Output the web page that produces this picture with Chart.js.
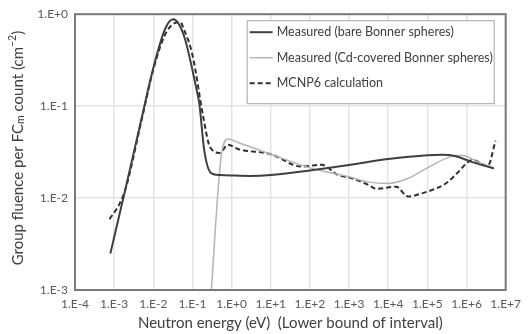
<!DOCTYPE html>
<html>
<head>
<meta charset="utf-8">
<script src="https://cdn.jsdelivr.net/npm/chart.js@4.4.1/dist/chart.umd.min.js"></script>
<style>
  html, body { margin: 0; padding: 0; background: #fff; }
  #wrap { width: 528px; height: 334px; }
</style>
</head>
<body>
<div id="wrap"><canvas id="c" width="528" height="334"></canvas></div>
<script>
// tick values / labels
var xTickValues = [1e-4, 1e-3, 1e-2, 1e-1, 1e0, 1e1, 1e2, 1e3, 1e4, 1e5, 1e6, 1e7];
var xTickLabels = ['1.E-4', '1.E-3', '1.E-2', '1.E-1', '1.E+0', '1.E+1', '1.E+2', '1.E+3', '1.E+4', '1.E+5', '1.E+6', '1.E+7'];
var yTickValues = [1e-3, 1e-2, 1e-1, 1e0];
var yTickLabels = ['1.E-3', '1.E-2', '1.E-1', '1.E+0'];

// measured, bare Bonner spheres
var bareEnergy = [8e-4, 2e-3, 5e-3, 1e-2, 2e-2, 3.2e-2, 6e-2, 0.13, 0.15, 0.2, 0.3, 0.5, 1, 3, 10, 100, 1e3, 1e4, 1e5, 2.5e5, 5e5, 1.4e6, 5e6];
var bareFluence = [0.0025, 0.0133, 0.073, 0.26, 0.69, 0.88, 0.59, 0.145, 0.106, 0.033, 0.0187, 0.0178, 0.0176, 0.0174, 0.0178, 0.020, 0.0229, 0.0266, 0.0293, 0.0296, 0.0287, 0.0246, 0.021];

// measured, Cd-covered Bonner spheres
var cdEnergy = [0.3, 0.45, 0.55, 0.8, 1.5, 10, 100, 1e3, 3e3, 1e4, 3e4, 1e5, 3e5, 5e5, 8e5, 2e6, 5e6];
var cdFluence = [0.0009, 0.012, 0.03, 0.044, 0.040, 0.030, 0.0213, 0.017, 0.015, 0.0144, 0.0162, 0.0213, 0.027, 0.029, 0.029, 0.0246, 0.0213];

// MCNP6 calculation
var mcnpEnergy = [7.6e-4, 1.4e-3, 2e-3, 5e-3, 1e-2, 2e-2, 3.5e-2, 4.9e-2, 6e-2, 0.1, 0.19, 0.28, 0.5, 0.8, 1.5, 10, 60, 200, 500, 1.3e3, 3e3, 5e3, 1.6e4, 3.2e4, 7e4, 3e5, 6e5, 9.5e5, 1.4e6, 3.5e6, 5.5e6];
var mcnpFluence = [0.0059, 0.0088, 0.013, 0.07, 0.25, 0.6, 0.8, 0.82, 0.69, 0.36, 0.075, 0.036, 0.031, 0.038, 0.034, 0.030, 0.022, 0.023, 0.018, 0.0162, 0.014, 0.0126, 0.0133, 0.0104, 0.0112, 0.0145, 0.019, 0.0234, 0.026, 0.0225, 0.042];

var FONT = 'Lato, "Open Sans", sans-serif';

function pts(xs, ys) {
  return xs.map(function (x, i) { return { x: x, y: ys[i] }; });
}

// frame, axis titles and the boxed legend inside the plot
var decorations = {
  id: 'decorations',
  afterDraw: function (chart) {
    var ctx = chart.ctx, a = chart.chartArea;
    ctx.save();

    ctx.strokeStyle = '#7a7a7a';
    ctx.lineWidth = 2;
    ctx.strokeRect(a.left, a.top, a.right - a.left, a.bottom - a.top);

    // legend
    var bw = 247, bh = 83;
    var bx = a.right - 12 - bw, by = a.top + 6;
    ctx.fillStyle = '#fff';
    ctx.fillRect(bx, by, bw, bh);
    ctx.strokeStyle = '#a6a6a6';
    ctx.lineWidth = 1;
    ctx.strokeRect(bx + 0.5, by + 0.5, bw, bh);
    ctx.font = '12.5px ' + FONT;
    ctx.textBaseline = 'middle';
    chart.data.datasets.forEach(function (ds, i) {
      var ly = by + 12 + i * 25.5;
      ctx.beginPath();
      ctx.strokeStyle = ds.borderColor;
      ctx.lineWidth = ds.borderWidth;
      ctx.setLineDash(ds.borderDash || []);
      ctx.moveTo(bx + 3, ly);
      ctx.lineTo(bx + 26, ly);
      ctx.stroke();
      ctx.setLineDash([]);
      ctx.fillStyle = '#404040';
      ctx.fillText(ds.label, bx + 30, ly);
    });

    // x title
    ctx.fillStyle = '#404040';
    ctx.font = '15px ' + FONT;
    ctx.textAlign = 'center';
    ctx.fillText('Neutron energy (eV)  (Lower bound of interval)', (a.left + a.right) / 2, 323);

    // y title with sub/superscript
    var parts = [
      { t: 'Group fluence per FC', s: 15, dy: 0 },
      { t: 'm', s: 10.5, dy: 3 },
      { t: ' count (cm', s: 15, dy: 0 },
      { t: '\u22122', s: 10.5, dy: -5 },
      { t: ')', s: 15, dy: 0 }
    ];
    var total = 0;
    parts.forEach(function (p) { ctx.font = p.s + 'px ' + FONT; p.w = ctx.measureText(p.t).width; total += p.w; });
    ctx.translate(18, (a.top + a.bottom) / 2 - 4);
    ctx.rotate(-Math.PI / 2);
    ctx.textAlign = 'left';
    var cx = -total / 2;
    parts.forEach(function (p) {
      ctx.font = p.s + 'px ' + FONT;
      ctx.fillText(p.t, cx, p.dy);
      cx += p.w;
    });
    ctx.restore();
  }
};

function decadeTicks(values, labels) {
  return {
    afterBuildTicks: function (scale) {
      scale.ticks = values.map(function (v) { return { value: v }; });
    },
    callback: function (v) {
      var i = values.indexOf(v);
      return i >= 0 ? labels[i] : '';
    }
  };
}
var xT = decadeTicks(xTickValues, xTickLabels);
var yT = decadeTicks(yTickValues, yTickLabels);

new Chart(document.getElementById('c'), {
  type: 'scatter',
  data: {
    datasets: [
      {
        label: 'Measured (bare Bonner spheres)',
        data: pts(bareEnergy, bareFluence),
        borderColor: '#3f3f3f', borderWidth: 2
      },
      {
        label: 'Measured (Cd-covered Bonner spheres)',
        data: pts(cdEnergy, cdFluence),
        borderColor: '#b4b4b4', borderWidth: 1.5
      },
      {
        label: 'MCNP6 calculation',
        data: pts(mcnpEnergy, mcnpFluence),
        borderColor: '#2f2f2f', borderWidth: 2, borderDash: [5, 3]
      }
    ]
  },
  options: {
    responsive: false,
    animation: false,
    devicePixelRatio: 1,
    showLine: true,
    elements: {
      point: { radius: 0, hoverRadius: 0 },
      line: { cubicInterpolationMode: 'monotone', fill: false }
    },
    layout: { padding: { top: 10, right: 17, left: 0, bottom: 0 } },
    plugins: { legend: { display: false }, tooltip: { enabled: false } },
    scales: {
      x: {
        type: 'logarithmic', min: 1e-4, max: 1e7,
        afterBuildTicks: xT.afterBuildTicks,
        afterFit: function (s) { s.height = 44; },
        grid: { color: '#e4e4e4', lineWidth: 1.5, drawTicks: false },
        border: { display: false },
        ticks: { callback: xT.callback, padding: 7, maxRotation: 0, autoSkip: false, color: '#595959', font: { family: FONT, size: 12 } }
      },
      y: {
        type: 'logarithmic', min: 1e-3, max: 1,
        afterBuildTicks: yT.afterBuildTicks,
        afterFit: function (s) { s.width = 75; },
        grid: { color: '#e4e4e4', lineWidth: 1.5, drawTicks: false },
        border: { display: false },
        ticks: { callback: yT.callback, padding: 7, color: '#595959', font: { family: FONT, size: 12 } }
      }
    }
  },
  plugins: [decorations]
});
</script>
</body>
</html>
